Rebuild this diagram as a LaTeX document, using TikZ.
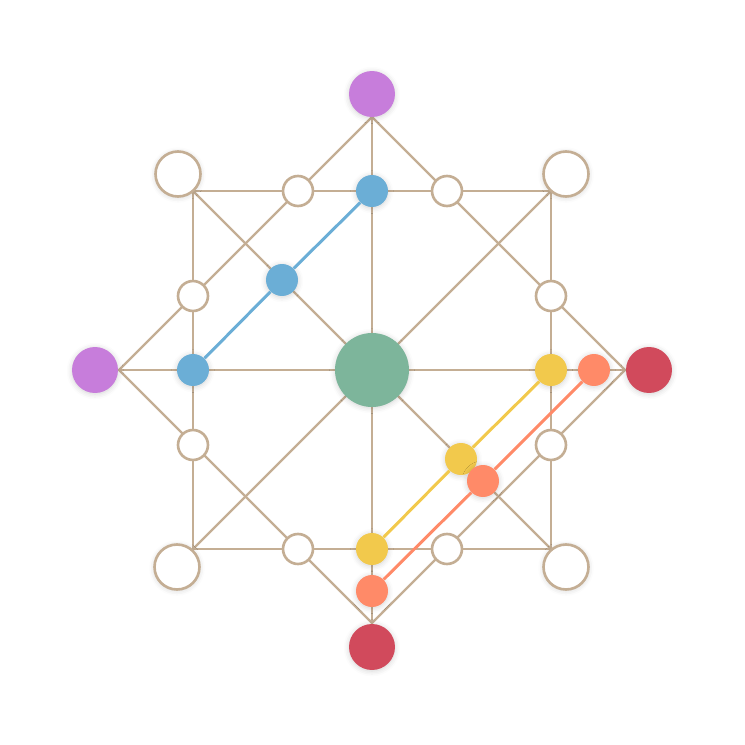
\documentclass[tikz,border=0pt]{standalone}
\usepackage{xcolor}
\usetikzlibrary{shadows.blur}

\definecolor{edgetan}{HTML}{C4AE94}
\definecolor{dotpurple}{HTML}{C77DDB}
\definecolor{dotred}{HTML}{D14A5C}
\definecolor{dotgreen}{HTML}{7DB59B}
\definecolor{dotblue}{HTML}{6BAED6}
\definecolor{dotyellow}{HTML}{F2C94C}
\definecolor{dotorange}{HTML}{FF8A68}

\begin{document}
\begin{tikzpicture}[x=0.02cm, y=0.02cm,
        grid/.style={edgetan, line width=1.3pt},
        soft/.style={blur shadow={shadow xshift=0pt, shadow yshift=-0.6pt,
            shadow blur radius=3pt, shadow opacity=18}},
        hub/.style={circle, inner sep=0pt, minimum size=1.48cm, fill=dotgreen, soft},
        tip/.style={circle, inner sep=0pt, minimum size=0.92cm, soft},
        corner/.style={circle, inner sep=0pt, minimum size=0.9cm, draw=edgetan,
            line width=1.5pt, fill=white, soft},
        ring/.style={circle, inner sep=0pt, minimum size=0.6cm, draw=edgetan,
            line width=1.5pt, fill=white},
        stop/.style={circle, inner sep=0pt, minimum size=0.64cm, soft},
        route/.style={line width=1.7pt}]
        \useasboundingbox (-372,-375) rectangle (373,370);

        % frame points
        \coordinate (tT) at (0,253);
        \coordinate (tL) at (-253,0);
        \coordinate (tR) at (253,0);
        \coordinate (tB) at (0,-253);
        \coordinate (cNW) at (-179,179);
        \coordinate (cNE) at (179,179);
        \coordinate (cSE) at (179,-179);
        \coordinate (cSW) at (-179,-179);

        \draw[grid] (cNW) -- (cNE) -- (cSE) -- (cSW) -- cycle;
        \draw[grid] (tT) -- (tR) -- (tB) -- (tL) -- cycle;
        \draw[grid] (tT) -- (tB);
        \draw[grid] (tL) -- (tR);
        \draw[grid] (cNW) -- (cSE);
        \draw[grid] (cNE) -- (cSW);

        % outer points
        \node[tip, fill=dotpurple] (pT) at (0,276) {};
        \node[tip, fill=dotpurple] (pL) at (-277,0) {};
        \node[tip, fill=dotred] (pR) at (277,0) {};
        \node[tip, fill=dotred] (pB) at (0,-277) {};

        % corners
        \node[corner] (kNW) at (-194,196) {};
        \node[corner] (kNE) at (194,196) {};
        \node[corner] (kSW) at (-195,-197) {};
        \node[corner] (kSE) at (194,-197) {};

        % crossings on the square
        \node[ring] (rN1) at (-74,179) {};
        \node[ring] (rN2) at (75,179) {};
        \node[ring] (rW1) at (-179,74) {};
        \node[ring] (rE1) at (179,74) {};
        \node[ring] (rW2) at (-179,-75) {};
        \node[ring] (rE2) at (179,-75) {};
        \node[ring] (rS1) at (-74,-179) {};
        \node[ring] (rS2) at (75,-179) {};

        \node[hub] (centre) at (0,0) {};

        % routes
        \node[stop, fill=dotblue] (b1) at (-179,0) {};
        \node[stop, fill=dotblue] (b2) at (-90,90) {};
        \node[stop, fill=dotblue] (b3) at (0,179) {};
        \node[stop, fill=dotyellow] (y1) at (179,0) {};
        \node[stop, fill=dotyellow] (y2) at (89,-89) {};
        \node[stop, fill=dotyellow] (y3) at (0,-179) {};
        \node[stop, fill=dotorange] (o1) at (222,0) {};
        \node[stop, fill=dotorange] (o2) at (111,-111) {};
        \node[stop, fill=dotorange] (o3) at (0,-221) {};

        \draw[route, dotblue] (b1) -- (b2) -- (b3);
        \draw[route, dotyellow] (y1) -- (y2) -- (y3);
        \draw[route, dotorange] (o1) -- (o2) -- (o3);
    \end{tikzpicture}
\end{document}
